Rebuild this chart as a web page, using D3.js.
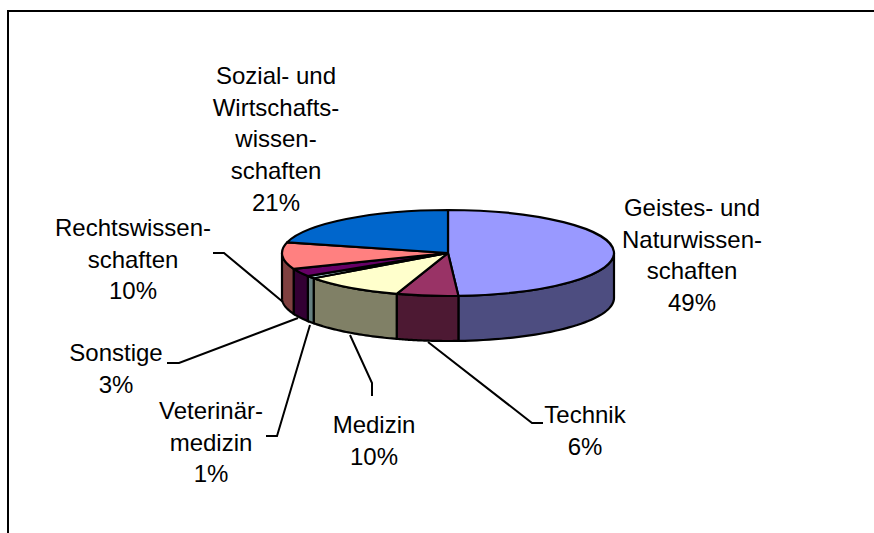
<!DOCTYPE html>
<html lang="de">
<head>
<meta charset="utf-8">
<title>Studierende nach Fach</title>
<script src="https://cdn.jsdelivr.net/npm/d3@7"></script>
<style>
html, body { margin: 0; padding: 0; background: #fff; }
svg { display: block; }
text { font-family: "Liberation Sans", Arial, sans-serif; font-size: 24px; fill: #000; }
</style>
</head>
<body>
<div id="chart"></div>
<script>
// values as printed on the labels
var categories = ["Geistes- und Naturwissenschaften", "Technik", "Medizin", "Veterinärmedizin", "Sonstige", "Rechtswissenschaften", "Sozial- und Wirtschaftswissenschaften"]
var values = [49, 6, 10, 1, 3, 10, 21]
var topColors = ["#9999FF", "#993366", "#FFFFCC", "#CCFFFF", "#660066", "#FF8080", "#0066CC"]
var sideColors = ["#4D4D80", "#4D1933", "#808066", "#668080", "#330033", "#804040", "#003366"]
// the wrapped lines of each label
var labelLines = [
    ["Geistes- und", "Naturwissen-", "schaften", "49%"],
    ["Technik", "6%"],
    ["Medizin", "10%"],
    ["Veterinär-", "medizin", "1%"],
    ["Sonstige", "3%"],
    ["Rechtswissen-", "schaften", "10%"],
    ["Sozial- und", "Wirtschafts-", "wissen-", "schaften", "21%"]
]

var w = 874
var h = 533
var cx = 448
var cy = 253
var rx = 166
var ry = 43
var depth = 45
var lineH = 31.7

var labelPos = [
    {x: 692, y: 216},
    {x: 585, y: 423},
    {x: 374, y: 433},
    {x: 211, y: 419},
    {x: 116, y: 361},
    {x: 133, y: 236},
    {x: 276, y: 84}
]
var leaders = [
    null,
    [[428, 342], [532, 423], [543, 423]],
    [[350, 335], [372, 383], [372, 396]],
    [[310, 325], [277, 436], [266, 436]],
    [[298, 318], [179, 363], [167, 363]],
    [[283, 302], [224, 253], [213, 253]],
    null
]

var svg = d3.select("#chart").append("svg").attr("width", w).attr("height", h)

// frame: only top and left edges show in the crop
svg.append("path")
    .attr("d", "M8,533V11H874")
    .attr("fill", "none")
    .attr("stroke", "#000")
    .attr("stroke-width", 2)

var arcs = d3.pie().sort(null).value(function(d) { return d })(values)

function px(a) { return cx + rx * Math.sin(a) }
function py(a) { return cy - ry * Math.cos(a) }

// outer wall of one slice, only the part facing the viewer
function wallPath(a0, a1) {
    var s = Math.max(a0, Math.PI / 2)
    var e = Math.min(a1, Math.PI * 1.5)
    if (e <= s) return null
    var steps = d3.range(0, 41).map(function(i) { return s + (e - s) * i / 40 })
    var line = d3.line()
    var upper = steps.map(function(a) { return [px(a), py(a)] })
    var lower = steps.slice().reverse().map(function(a) { return [px(a), py(a) + depth] })
    return line(upper.concat(lower)) + "Z"
}

svg.append("g").selectAll("path")
    .data(arcs)
    .enter()
    .append("path")
    .attr("d", function(d) { return wallPath(d.startAngle, d.endAngle) })
    .attr("fill", function(d, i) { return sideColors[i] })
    .attr("stroke", "#000")
    .attr("stroke-width", 2.2)

// top face is a flat d3 arc squashed into an ellipse
var arc = d3.arc().innerRadius(0).outerRadius(rx)
svg.append("g")
    .attr("transform", "translate(" + cx + "," + cy + ") scale(1," + (ry / rx) + ")")
    .selectAll("path")
    .data(arcs)
    .enter()
    .append("path")
    .attr("d", arc)
    .attr("fill", function(d, i) { return topColors[i] })
    .attr("stroke", "#000")
    .attr("stroke-width", 2.2)
    .attr("vector-effect", "non-scaling-stroke")
    .attr("stroke-linejoin", "round")

svg.append("g").selectAll("path")
    .data(leaders.filter(function(d) { return d }))
    .enter()
    .append("path")
    .attr("d", d3.line())
    .attr("fill", "none")
    .attr("stroke", "#000")
    .attr("stroke-width", 2)

var labels = svg.append("g").selectAll("text")
    .data(labelLines)
    .enter()
    .append("text")
    .attr("text-anchor", "middle")
    .attr("aria-label", function(d, i) { return categories[i] })

labels.selectAll("tspan")
    .data(function(d, i) {
        return d.map(function(t, j) { return {t: t, x: labelPos[i].x, y: labelPos[i].y + j * lineH} })
    })
    .enter()
    .append("tspan")
    .attr("x", function(d) { return d.x })
    .attr("y", function(d) { return d.y })
    .text(function(d) { return d.t })
</script>
</body>
</html>
